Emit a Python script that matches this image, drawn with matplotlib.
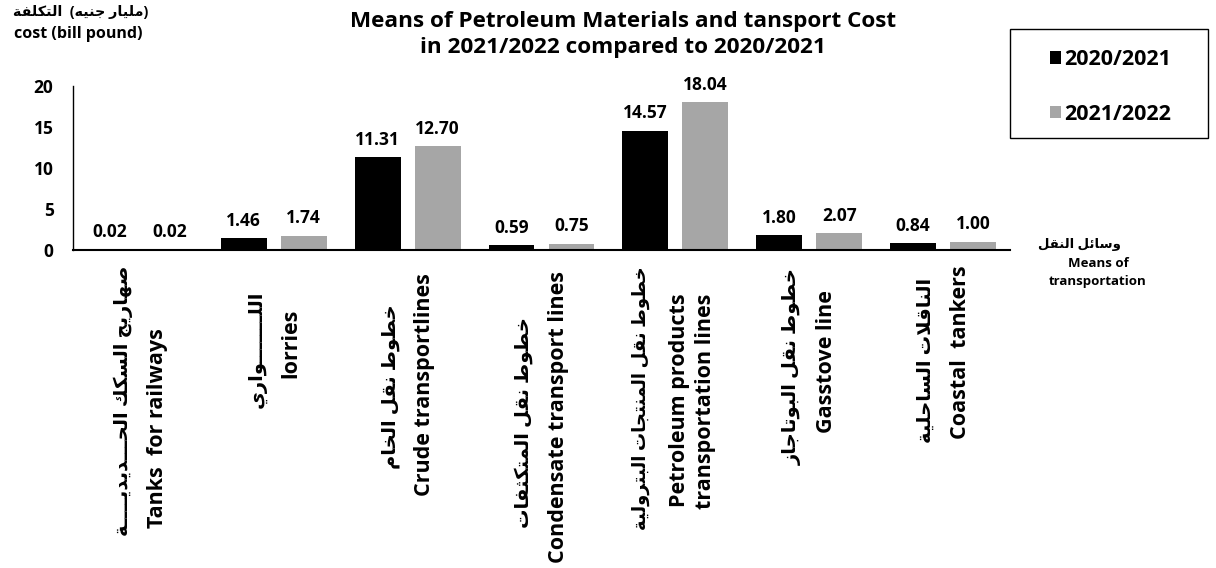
import numpy as np
import matplotlib
matplotlib.use('Agg')
import matplotlib.pyplot as plt
import matplotlib.transforms as mtransforms
from matplotlib.patches import Patch, Rectangle

plt.rcParams['font.family'] = ['Open Sans', 'DejaVu Sans']
plt.rcParams['font.weight'] = 'bold'

# data
labels_ar = ['صهاريج السكك الحـــديديــــة', 'اللـــــــواري', 'خطوط نقل الخام',
             'خطوط نقل المتكثفات', 'خطوط نقل المنتجات البترولية',
             'خطوط نقل البوتاجاز', 'الناقلات الساحلية']
labels_en = ['Tanks  for railways', 'lorries', 'Crude transportlines',
             'Condensate transport lines', 'Petroleum products\ntransportation lines',
             'Gasstove line', 'Coastal  tankers']
series_names = ['2020/2021', '2021/2022']
cost_2020 = [0.02, 1.46, 11.31, 0.59, 14.57, 1.80, 0.84]
cost_2021 = [0.02, 1.74, 12.70, 0.75, 18.04, 2.07, 1.00]
colors = ['#000000', '#a6a6a6']

# vertical centre (pixels below the top of the figure) of each rotated label line
centre_ar_px = [401, 349, 387, 423, 398, 367, 360]
centre_en_px = [428, 343, 385, 417, 401, 362, 352]

# arabic contextual forms: isolated, final, initial, medial
FORMS = {
    'ا': (0xFE8D, 0xFE8E, None, None), 'ب': (0xFE8F, 0xFE90, 0xFE91, 0xFE92),
    'ة': (0xFE93, 0xFE94, None, None), 'ت': (0xFE95, 0xFE96, 0xFE97, 0xFE98),
    'ث': (0xFE99, 0xFE9A, 0xFE9B, 0xFE9C), 'ج': (0xFE9D, 0xFE9E, 0xFE9F, 0xFEA0),
    'ح': (0xFEA1, 0xFEA2, 0xFEA3, 0xFEA4), 'خ': (0xFEA5, 0xFEA6, 0xFEA7, 0xFEA8),
    'د': (0xFEA9, 0xFEAA, None, None), 'ر': (0xFEAD, 0xFEAE, None, None),
    'ز': (0xFEAF, 0xFEB0, None, None), 'س': (0xFEB1, 0xFEB2, 0xFEB3, 0xFEB4),
    'ص': (0xFEB9, 0xFEBA, 0xFEBB, 0xFEBC), 'ط': (0xFEC1, 0xFEC2, 0xFEC3, 0xFEC4),
    'ف': (0xFED1, 0xFED2, 0xFED3, 0xFED4), 'ق': (0xFED5, 0xFED6, 0xFED7, 0xFED8),
    'ك': (0xFED9, 0xFEDA, 0xFEDB, 0xFEDC), 'ل': (0xFEDD, 0xFEDE, 0xFEDF, 0xFEE0),
    'م': (0xFEE1, 0xFEE2, 0xFEE3, 0xFEE4), 'ن': (0xFEE5, 0xFEE6, 0xFEE7, 0xFEE8),
    'ه': (0xFEE9, 0xFEEA, 0xFEEB, 0xFEEC), 'و': (0xFEED, 0xFEEE, None, None),
    'ي': (0xFEF1, 0xFEF2, 0xFEF3, 0xFEF4), 'ئ': (0xFE89, 0xFE8A, 0xFE8B, 0xFE8C),
    'LA': (0xFEFB, 0xFEFC, None, None),
}
TATWEEL = 'ـ'


def joins_next(c):
    return c == TATWEEL or (c in FORMS and FORMS[c][2] is not None)


def joins(c):
    return c == TATWEEL or c in FORMS


def shape(text):
    # merge lam-alef into one ligature
    chars = []
    i = 0
    while i < len(text):
        if text[i] == 'ل' and i + 1 < len(text) and text[i + 1] == 'ا':
            chars.append('LA')
            i += 2
        else:
            chars.append(text[i])
            i += 1
    out = []
    for i, c in enumerate(chars):
        if c not in FORMS:
            out.append(c)
            continue
        prev_ok = i > 0 and joins_next(chars[i - 1])
        next_ok = FORMS[c][2] is not None and i + 1 < len(chars) and joins(chars[i + 1])
        iso, fin, ini, med = FORMS[c]
        if prev_ok and next_ok:
            code = med
        elif prev_ok:
            code = fin
        elif next_ok:
            code = ini
        else:
            code = iso
        out.append(chr(code))
    # visual order (right to left)
    return ''.join(out)[::-1]


W, H = 1216, 568
fig, ax = plt.subplots(figsize=(W / 100, H / 100), dpi=100)
fig.subplots_adjust(left=0.060, right=0.8306, bottom=0.5599, top=0.8486)

x = np.arange(len(labels_en))
w = 0.343
off = 0.224
b1 = ax.bar(x - off, cost_2020, w, color=colors[0], label=series_names[0])
b2 = ax.bar(x + off, cost_2021, w, color=colors[1], label=series_names[1])
for bars, vals in ((b1, cost_2020), (b2, cost_2021)):
    for rect, v in zip(bars, vals):
        ax.annotate('%.2f' % v, (rect.get_x() + rect.get_width() / 2, v),
                    xytext=(0, 6), textcoords='offset points', ha='center',
                    va='bottom', fontsize=12.5, fontweight='bold')

ax.set_xlim(-0.5, 6.5)
ax.set_ylim(0, 20)
ax.set_yticks([0, 5, 10, 15, 20])
ax.tick_params(axis='y', length=0, labelsize=12.5, pad=14)
ax.set_xticks([])
for s in ['top', 'right']:
    ax.spines[s].set_visible(False)
ax.spines['left'].set_linewidth(1.0)
ax.spines['bottom'].set_linewidth(1.5)

# rotated category labels: arabic line, then english line(s)
pitch = 25  # points between lines
blend = mtransforms.blended_transform_factory(ax.transData, fig.transFigure)
for i in range(len(x)):
    en_lines = labels_en[i].split('\n')
    n = 1 + len(en_lines)
    ar_size = 13 if len(en_lines) > 1 else 14
    tr = mtransforms.offset_copy(blend, fig=fig, x=-(n - 1) / 2 * pitch, units='points')
    ax.text(x[i], 1 - centre_ar_px[i] / H, shape(labels_ar[i]), transform=tr,
            rotation=90, ha='center', va='center', fontsize=ar_size,
            fontweight='bold', clip_on=False)
    en_off = (1 + (len(en_lines) - 1) / 2 - (n - 1) / 2) * pitch
    tr = mtransforms.offset_copy(blend, fig=fig, x=en_off, units='points')
    ax.text(x[i], 1 - centre_en_px[i] / H, labels_en[i], transform=tr,
            rotation=90, ha='center', va='center', multialignment='right',
            fontsize=15.5, fontweight='bold', linespacing=1.3, clip_on=False)

fig.text(0.066, 0.978, shape('التكلفة') + '  (' + shape('مليار جنيه') + ')',
         ha='center', va='center', fontsize=10.3, fontweight='bold')
fig.text(0.064, 0.941, 'cost (bill pound)', ha='center', va='center',
         fontsize=11.5, fontweight='bold')
fig.text(0.888, 0.570, shape('وسائل النقل'), ha='center', va='center',
         fontsize=9.5, fontweight='bold')
fig.text(0.903, 0.520, 'Means of\ntransportation', ha='center', va='center',
         fontsize=9.5, fontweight='bold', linespacing=1.45)

fig.suptitle('Means of Petroleum Materials and tansport Cost\nin 2021/2022 compared to 2020/2021',
             x=0.512, y=0.981, fontsize=16.2, fontweight='bold', linespacing=1.3)

# legend box
fig.add_artist(Rectangle((0.8306, 0.757), 0.1628, 0.192, transform=fig.transFigure,
                         facecolor='none', edgecolor='black', linewidth=1.0))
handles = [Patch(facecolor=c) for c in colors]
leg = fig.legend(handles, series_names, loc='center',
                 bbox_to_anchor=(0.9135, 0.847), frameon=False,
                 fontsize=15.5, handlelength=0.5, handleheight=0.5,
                 handletextpad=0.15, labelspacing=1.55, borderpad=0)
for t in leg.get_texts():
    t.set_fontweight('bold')

fig.savefig('out.png', dpi=100)
